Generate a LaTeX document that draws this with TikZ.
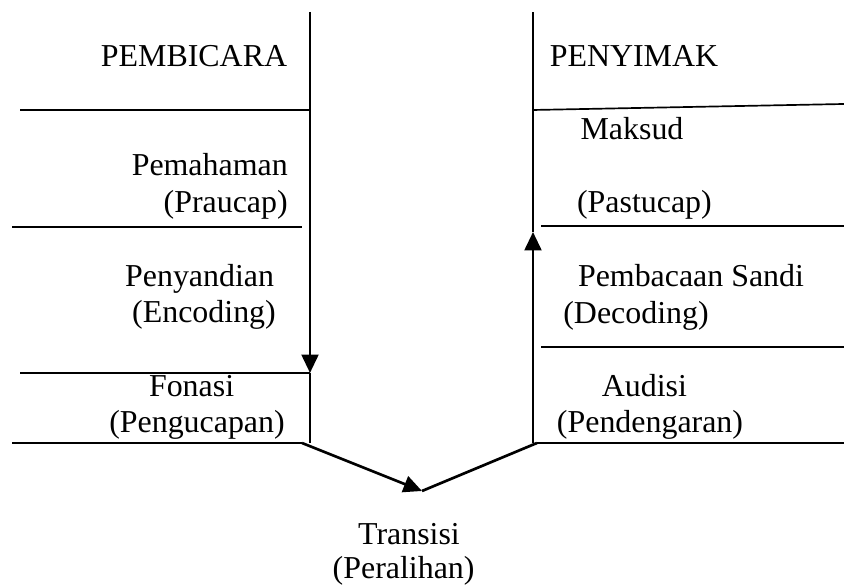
\documentclass[tikz,border=0pt]{standalone}
\usepackage{fontspec}
\setmainfont{Liberation Serif}
\usepackage{tikz}
\usetikzlibrary{arrows.meta,positioning,calc}

\begin{document}
\begin{tikzpicture}[
  lbl/.style={font=\fontsize{22.7}{27}\selectfont, inner sep=0pt, anchor=base},
  rule/.style={line width=1.2pt},
  flow/.style={line width=1.9pt, -{Triangle[length=0.46cm,width=0.42cm]}},
  tail/.style={line width=1pt}
]
  \useasboundingbox (0,0) rectangle (21.1,14.675);

  % Axis points
  \coordinate (spktop) at (7.75,14.375);
  \coordinate (spkmid) at (7.75,5.35);
  \coordinate (spkbot) at (7.75,3.6);
  \coordinate (lstop) at (13.325,14.375);
  \coordinate (lsmid) at (13.325,8.875);
  \coordinate (lsbot) at (13.325,3.6);
  \coordinate (outl) at (7.55,3.6);
  \coordinate (dip) at (10.55,2.4);
  \coordinate (inr) at (13.425,3.6);

  % Speaker side
  \draw[flow] (spktop) -- (spkmid);
  \draw[tail] (spkmid) -- (spkbot);
  \draw[rule] (0.5,11.925) -- (7.75,11.925);
  \draw[rule] (0.3,9.0) -- (7.55,9.0);
  \draw[rule] (0.5,5.35) -- (spkmid);
  \draw[rule] (0.3,3.6) -- (outl);

  % Listener side
  \draw[flow] (lsbot) -- (lsmid);
  \draw[line width=1.4pt] (lsmid) -- (lstop);
  \draw[rule] (13.325,11.925) -- (21.1,12.075);
  \draw[rule] (13.525,9.025) -- (21.1,9.025);
  \draw[rule] (13.525,6.0) -- (21.1,6.0);
  \draw[rule] (inr) -- (21.1,3.6);

  % Transition
  \draw[flow] (outl) -- (dip);
  \draw[line width=1.9pt] (dip) -- (inr);

  % Labels, speaker
  \node[lbl] (pembicara) at (4.85,13.0) {PEMBICARA};
  \node[lbl, anchor=base east] (pemahaman) at (7.2,10.275) {Pemahaman};
  \node[lbl, anchor=base east] (praucap) at (7.2,9.35) {(Praucap)};
  \node[lbl] (penyandian) at (4.99,7.5) {Penyandian};
  \node[lbl] (encoding) at (5.1,6.6) {(Encoding)};
  \node[lbl] (fonasi) at (4.79,4.75) {Fonasi};
  \node[lbl] (pengucapan) at (4.925,3.85) {(Pengucapan)};

  % Labels, listener
  \node[lbl] (penyimak) at (15.85,13.0) {PENYIMAK};
  \node[lbl] (maksud) at (15.8,11.175) {Maksud};
  \node[lbl] (pastucap) at (16.11,9.35) {(Pastucap)};
  \node[lbl] (sandi) at (17.275,7.5) {Pembacaan Sandi};
  \node[lbl] (decoding) at (15.9,6.575) {(Decoding)};
  \node[lbl] (audisi) at (16.11,4.75) {Audisi};
  \node[lbl] (pendengaran) at (16.25,3.85) {(Pendengaran)};

  % Labels, transition
  \node[lbl] (transisi) at (10.225,1.05) {Transisi};
  \node[lbl] (peralihan) at (10.09,0.2) {(Peralihan)};
\end{tikzpicture}
\end{document}
